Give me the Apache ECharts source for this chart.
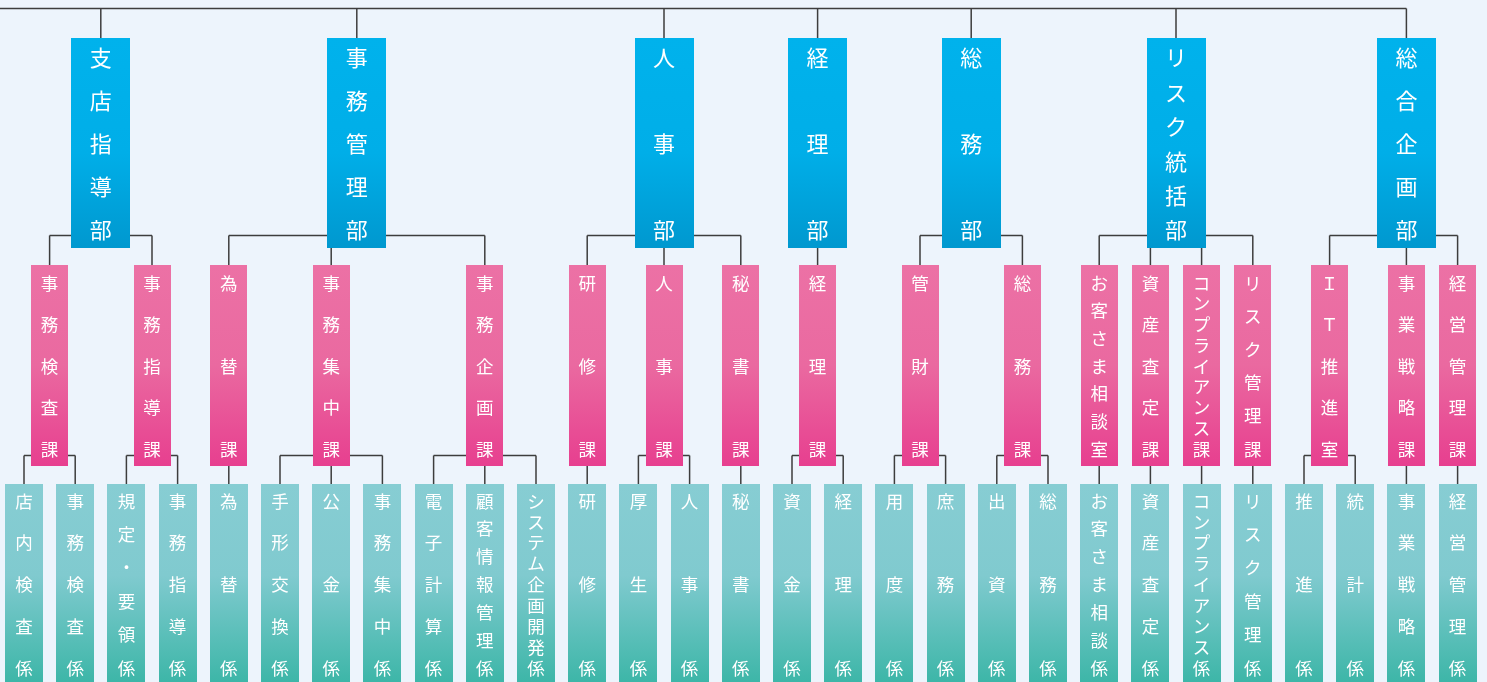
<!DOCTYPE html>
<html>
<head>
<meta charset="utf-8">
<script src="https://cdn.jsdelivr.net/npm/echarts@6/dist/echarts.min.js"></script>
<style>
html,body{margin:0;padding:0;background:#EDF4FC;}
#main{width:1487px;height:682px;}
</style>
</head>
<body>
<div id="main"></div>
<script>
// ---------------- data ----------------
const departments = ['支店指導部', '事務管理部', '人事部', '経理部', '総務部', 'リスク統括部', '総合企画部'];

const sections = [
  ['事務検査課', '支店指導部'], ['事務指導課', '支店指導部'],
  ['為替課', '事務管理部'], ['事務集中課', '事務管理部'], ['事務企画課', '事務管理部'],
  ['研修課', '人事部'], ['人事課', '人事部'], ['秘書課', '人事部'],
  ['経理課', '経理部'],
  ['管財課', '総務部'], ['総務課', '総務部'],
  ['お客さま相談室', 'リスク統括部'], ['資産査定課', 'リスク統括部'], ['コンプライアンス課', 'リスク統括部'], ['リスク管理課', 'リスク統括部'],
  ['ＩＴ推進室', '総合企画部'], ['事業戦略課', '総合企画部'], ['経営管理課', '総合企画部']
];

const teams = [
  ['店内検査係', '事務検査課'], ['事務検査係', '事務検査課'],
  ['規定・要領係', '事務指導課'], ['事務指導係', '事務指導課'],
  ['為替係', '為替課'],
  ['手形交換係', '事務集中課'], ['公金係', '事務集中課'], ['事務集中係', '事務集中課'],
  ['電子計算係', '事務企画課'], ['顧客情報管理係', '事務企画課'], ['システム企画開発係', '事務企画課'],
  ['研修係', '研修課'],
  ['厚生係', '人事課'], ['人事係', '人事課'],
  ['秘書係', '秘書課'],
  ['資金係', '経理課'], ['経理係', '経理課'],
  ['用度係', '管財課'], ['庶務係', '管財課'],
  ['出資係', '総務課'], ['総務係', '総務課'],
  ['お客さま相談係', 'お客さま相談室'],
  ['資産査定係', '資産査定課'],
  ['コンプライアンス係', 'コンプライアンス課'],
  ['リスク管理係', 'リスク管理課'],
  ['推進係', 'ＩＴ推進室'], ['統計係', 'ＩＴ推進室'],
  ['事業戦略係', '事業戦略課'],
  ['経営管理係', '経営管理課']
];

// layout directive: department box aligned over a given section instead of the midpoint
const deptAnchor = { '総合企画部': '事業戦略課' };

// ---------------- layout (slot indices) ----------------
const xOf = {};
teams.forEach((t, i) => { xOf[t[0]] = i; });
sections.forEach(s => {
  const k = teams.filter(t => t[1] === s[0]).map(t => xOf[t[0]]);
  xOf[s[0]] = (Math.min(...k) + Math.max(...k)) / 2;
});
departments.forEach(d => {
  const k = sections.filter(s => s[1] === d).map(s => xOf[s[0]]);
  xOf[d] = deptAnchor[d] ? xOf[deptAnchor[d]] : (Math.min(...k) + Math.max(...k)) / 2;
});

const nodes = [];
departments.forEach(d => nodes.push({ name: d, level: 0, x: xOf[d], kids: sections.filter(s => s[1] === d).map(s => xOf[s[0]]) }));
sections.forEach(s => nodes.push({ name: s[0], level: 1, x: xOf[s[0]], kids: teams.filter(t => t[1] === s[0]).map(t => xOf[t[0]]) }));
teams.forEach(t => nodes.push({ name: t[0], level: 2, x: xOf[t[0]], kids: [] }));

// ---------------- styles ----------------
function grad(stops) {
  return { type: 'linear', x: 0, y: 0, x2: 0, y2: 1, colorStops: stops.map(s => ({ offset: s[0], color: s[1] })) };
}
const LV = [
  { top: 38, bottom: 248, first: 58, last: 230, w: 59, font: 22, childBus: 235.5,
    fill: grad([[0, '#00B2EC'], [0.55, '#00AEE8'], [1, '#0098CF']]) },
  { top: 265, bottom: 466, first: 283, last: 449, w: 37, font: 17.5, childBus: 455.5,
    fill: grad([[0, '#EC71A5'], [0.5, '#EA69A0'], [1, '#E73F8F']]) },
  { top: 484, bottom: 687, first: 501, last: 668, w: 38, font: 17.5, childBus: null,
    fill: grad([[0, '#87CDD3'], [0.45, '#80CACF'], [1, '#3AB5A6']]) }
];
const TOP_BUS = 8.5;
const LINE = { stroke: '#3d3d3d', lineWidth: 1.5 };
const FONT = '"Noto Sans CJK JP", "Noto Sans", sans-serif';

// slot -> pixel via the x axis
const SLOT0 = 24, SLOTW = 51.2, W = 1487, H = 682;

function renderBox(params, api) {
  const n = nodes[params.dataIndex];
  const g = LV[n.level];
  const p0 = api.coord([api.value(0), g.top]);
  const p1 = api.coord([api.value(0), g.bottom]);
  const cx = p0[0];
  const children = [{
    type: 'rect',
    shape: { x: Math.round(cx - g.w / 2), y: p0[1], width: g.w, height: p1[1] - p0[1] },
    style: { fill: g.fill }
  }];
  const chars = Array.from(n.name);
  const m = chars.length;
  chars.forEach((ch, j) => {
    const yv = m === 1 ? (g.first + g.last) / 2 : g.first + (g.last - g.first) * j / (m - 1);
    const py = api.coord([api.value(0), yv])[1];
    children.push({
      type: 'text',
      style: { text: ch, x: cx, y: py, fill: '#ffffff', font: 'normal ' + g.font + 'px ' + FONT,
               align: 'center', verticalAlign: 'middle' }
    });
  });
  return { type: 'group', children };
}

function seg(a, b) {
  return { type: 'line', shape: { x1: a[0], y1: a[1], x2: b[0], y2: b[1] }, style: LINE };
}

function renderLinks(params, api) {
  const children = [];
  if (params.dataIndex === 0) {
    // top bus joining all departments
    const maxX = Math.max(...departments.map(d => xOf[d]));
    const l = api.coord([-SLOT0 / SLOTW, TOP_BUS]);
    const r = api.coord([maxX, TOP_BUS]);
    children.push(seg([l[0], l[1]], r));
    departments.forEach(d => {
      children.push(seg(api.coord([xOf[d], TOP_BUS]), api.coord([xOf[d], LV[0].top])));
    });
  }
  const n = nodes[params.dataIndex];
  if (n.kids.length) {
    const g = LV[n.level], gc = LV[n.level + 1];
    const lo = Math.min(...n.kids), hi = Math.max(...n.kids);
    if (hi > lo) children.push(seg(api.coord([lo, g.childBus]), api.coord([hi, g.childBus])));
    n.kids.forEach(k => {
      const startY = (Math.abs(k - n.x) < 0.3) ? g.bottom : g.childBus;
      children.push(seg(api.coord([k, startY]), api.coord([k, gc.top])));
    });
  }
  return { type: 'group', children };
}

const chart = echarts.init(document.getElementById('main'), null, { renderer: 'canvas' });
const seriesData = nodes.map(n => [n.x, n.level]);
chart.setOption({
  backgroundColor: '#EDF4FC',
  animation: false,
  grid: { left: 0, right: 0, top: 0, bottom: 0 },
  xAxis: { type: 'value', min: -SLOT0 / SLOTW, max: (W - SLOT0) / SLOTW, show: false },
  yAxis: { type: 'value', min: 0, max: H, inverse: true, show: false },
  series: [
    { type: 'custom', name: 'links', renderItem: renderLinks, data: seriesData, z: 1, clip: false, silent: true },
    { type: 'custom', name: 'boxes', renderItem: renderBox, data: seriesData, z: 2, clip: false, silent: true }
  ]
});
</script>
</body>
</html>
